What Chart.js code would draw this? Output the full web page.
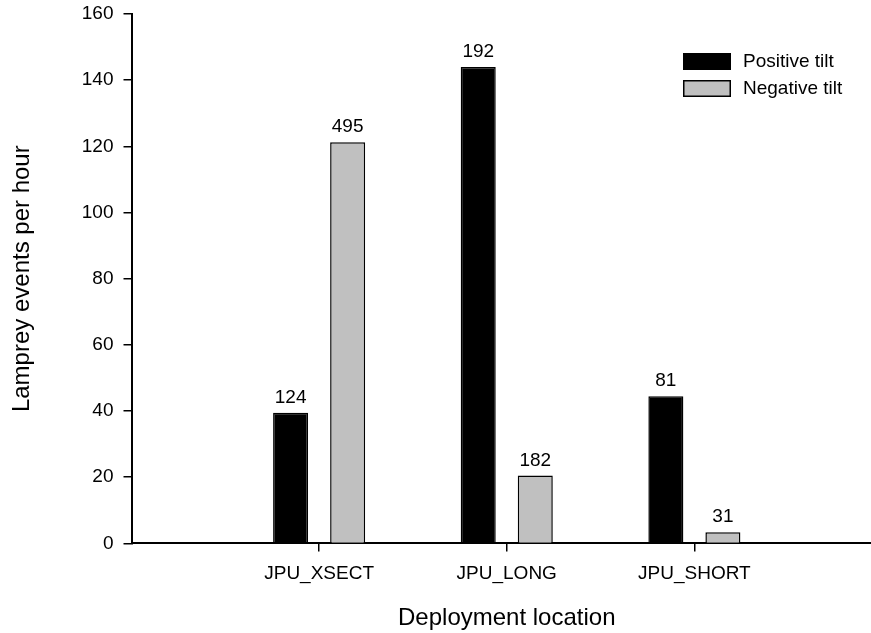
<!DOCTYPE html>
<html lang="en">
<head>
  <meta charset="UTF-8">
  <title>Lamprey events per hour</title>
  <script src="https://cdn.jsdelivr.net/npm/chart.js"></script>
  <style>
    html, body { margin: 0; padding: 0; background: #fff; overflow: hidden; }
  </style>
</head>
<body>
  <canvas id="myChart" width="882" height="633"></canvas>
  <script>
    // values
    const categories = ['JPU_XSECT', 'JPU_LONG', 'JPU_SHORT'];
    const positiveTilt = [39.5, 144, 44.5];
    const negativeTilt = [121.2, 20.5, 3.4];
    // counts printed above the bars
    const positiveCounts = [124, 192, 81];
    const negativeCounts = [495, 182, 31];
    const yTicks = [0, 20, 40, 60, 80, 100, 120, 140, 160];

    const FONT = 'Arial, "Liberation Sans", sans-serif';

    const toPoints = vals => vals.map((v, i) => ({ x: i + 1, y: v }));

    // numbers above bars + legend inside the plot
    const extras = {
      id: 'extras',
      afterDatasetsDraw(chart) {
        const ctx = chart.ctx;
        const counts = [positiveCounts, negativeCounts];
        ctx.save();
        ctx.fillStyle = '#000';
        ctx.font = '19px ' + FONT;
        ctx.textAlign = 'center';
        ctx.textBaseline = 'alphabetic';
        chart.data.datasets.forEach((ds, d) => {
          chart.getDatasetMeta(d).data.forEach((bar, i) => {
            ctx.fillText(counts[d][i], bar.x, bar.y - 10);
          });
        });

        // legend
        ctx.textAlign = 'left';
        ctx.textBaseline = 'middle';
        chart.data.datasets.forEach((ds, d) => {
          const y = 53 + d * 27;
          ctx.fillStyle = ds.backgroundColor;
          ctx.fillRect(683, y, 48, 17);
          ctx.strokeStyle = '#000';
          ctx.lineWidth = 1.5;
          ctx.strokeRect(683.75, y + 0.75, 46.5, 15.5);
          ctx.fillStyle = '#000';
          ctx.fillText(ds.label, 743, y + 9);
        });
        ctx.restore();
      }
    };

    new Chart(document.getElementById('myChart'), {
      type: 'bar',
      data: {
        datasets: [{
          label: 'Positive tilt',
          data: toPoints(positiveTilt),
          backgroundColor: '#000000',
          borderColor: '#000000',
          borderWidth: 1.5
        }, {
          label: 'Negative tilt',
          data: toPoints(negativeTilt),
          backgroundColor: '#c0c0c0',
          borderColor: '#000000',
          borderWidth: 1.5
        }]
      },
      options: {
        responsive: false,
        animation: false,
        categoryPercentage: 0.608,
        barPercentage: 0.614,
        layout: { padding: { top: 0, left: 0, right: 0, bottom: 0 } },
        plugins: {
          legend: { display: false },
          tooltip: { enabled: false }
        },
        scales: {
          x: {
            type: 'linear',
            min: 0,
            max: 4,
            offset: false,
            afterBuildTicks: scale => { scale.ticks = categories.map((c, i) => ({ value: i + 1 })); },
            ticks: {
              callback: v => categories[v - 1] || '',
              color: '#000',
              font: { family: FONT, size: 19 },
              padding: 11,
              maxRotation: 0,
              autoSkip: false
            },
            grid: { offset: false, drawOnChartArea: false, tickLength: 8, color: '#000', lineWidth: 1.5 },
            border: { display: true, color: '#000', width: 2 },
            title: {
              display: true,
              text: 'Deployment location',
              color: '#000',
              font: { family: FONT, size: 24 },
              padding: { top: 8, bottom: 0 }
            }
          },
          y: {
            min: 0,
            max: 160,
            afterBuildTicks: scale => { scale.ticks = yTicks.map(v => ({ value: v })); },
            ticks: {
              color: '#000',
              // small lineHeight keeps the top padding tight (160 sits at the top edge)
              font: { family: FONT, size: 19, lineHeight: 0.42 },
              padding: 10
            },
            grid: { drawOnChartArea: false, tickLength: 8, color: '#000', lineWidth: 1.5 },
            border: { display: true, color: '#000', width: 2 },
            title: {
              display: true,
              text: 'Lamprey events per hour',
              color: '#000',
              font: { family: FONT, size: 24 },
              padding: { top: 8, bottom: 35 }
            }
          }
        }
      },
      plugins: [extras]
    });
  </script>
</body>
</html>
